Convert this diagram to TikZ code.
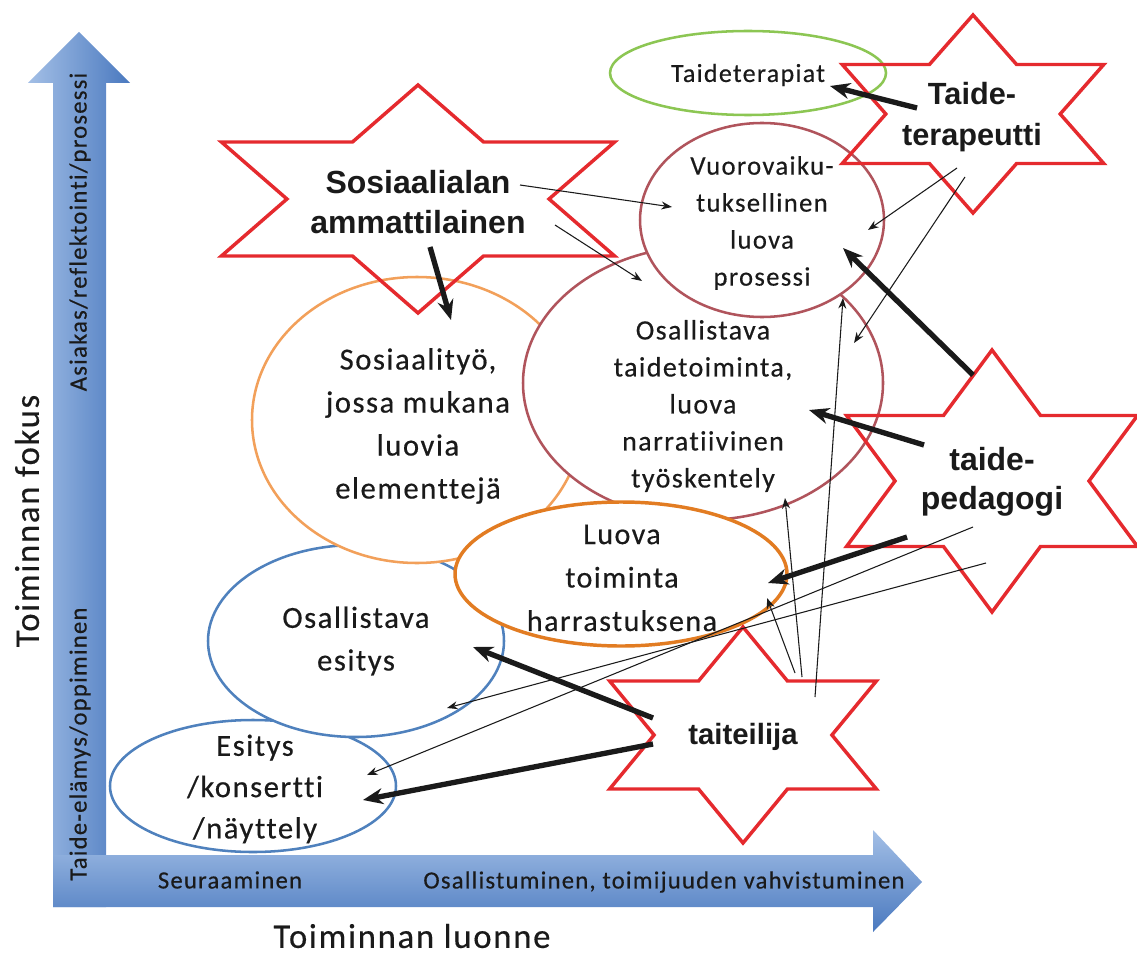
\documentclass[tikz,border=0pt]{standalone}
\usepackage{fontspec}
\setmainfont{Carlito}[LetterSpace=5,Ligatures=NoCommon,FakeBold=0.4]
\newfontfamily\starfont{Liberation Sans}
\usepackage{tikz}
\usetikzlibrary{arrows.meta,shapes.geometric}
\definecolor{StarRed}{HTML}{E52A2E}
\definecolor{OvalRose}{HTML}{B0545C}
\definecolor{OvalOrange}{HTML}{F2A05A}
\definecolor{OvalAmber}{HTML}{E27C22}
\definecolor{OvalBlue}{HTML}{4F81BD}
\definecolor{OvalGreen}{HTML}{8CC653}
\definecolor{AxisLight}{HTML}{A3BFE6}
\definecolor{AxisDark}{HTML}{4A79BF}
\definecolor{InkGray}{HTML}{1A1A1A}
% six-pointed star: centre x, centre y, x radius, y radius
\newcommand{\hexstar}[4]{%
  \draw[starline,shift={(#1,#2)}] (0,#4)
    \foreach \a in {0,...,5}{
      -- ({0.57735*#3*cos(120+60*\a)},{0.57735*#4*sin(120+60*\a)})
      -- ({#3*cos(150+60*\a)},{#4*sin(150+60*\a)}) } -- cycle;}

\begin{document}
\begin{tikzpicture}[x=0.75pt,y=-0.75pt,
    oval/.style={ellipse,fill=white,inner sep=0pt,line width=1.9pt},
    ovaltext/.style={align=center,text=InkGray,inner sep=0pt},
    starline/.style={StarRed,line width=2.6pt,line join=miter},
    startext/.style={align=center,text=InkGray,inner sep=0pt},
    axistext/.style={text=InkGray,inner sep=0pt,font=\fontsize{18.5}{22}\selectfont},
    thinarr/.style={-{Stealth[length=8pt,width=6pt]},line width=0.8pt,InkGray},
    thickarr/.style={-{Stealth[length=15pt,width=12pt]},line width=4pt,InkGray}]
  \useasboundingbox (0,0) rectangle (1137,959);

  % axes
  \shade[left color=AxisLight,right color=AxisDark]
    (53,907) -- (53,83) -- (28,83) -- (79,32) -- (130,83) -- (106,83) -- (106,907) -- cycle;
  \shade[top color=AxisLight,bottom color=AxisDark]
    (53,855) -- (873,855) -- (873,830) -- (922,882) -- (873,932) -- (873,907) -- (53,907) -- cycle;
  \node[axistext,rotate=90] (ax-up)  at (80,232) {Asiakas/reflektointi/prosessi};
  \node[axistext,rotate=90] (ax-low) at (80,744) {Taide-elämys/oppiminen};
  \node[axistext] (ax-left)  at (230,880) {Seuraaminen};
  \node[axistext] (ax-right) at (664,882) {Osallistuminen, toimijuuden vahvistuminen};
  \node[text=InkGray,rotate=90,font=\fontsize{26}{30}\selectfont] (fokus) at (27,521) {Toiminnan fokus};
  \node[text=InkGray,font=\fontsize{26}{30}\selectfont] (luonne) at (412,936) {Toiminnan luonne};

  % ellipses, back to front
  \node[oval,draw=OvalBlue,minimum width=214.5pt,minimum height=99pt] (esitys) at (253,786) {};
  \node[oval,draw=OvalBlue,minimum width=222pt,minimum height=144pt] (osesi) at (356,641) {};
  \node[oval,draw=OvalOrange,minimum width=247.5pt,minimum height=214.5pt] (sostyo) at (417,420) {};
  \node[oval,draw=OvalRose,minimum width=270pt,minimum height=205.5pt] (osta) at (703,383) {};
  \node[oval,draw=OvalRose,minimum width=183pt,minimum height=145.5pt] (vuoro) at (762,220) {};
  \node[oval,draw=OvalAmber,line width=2.6pt,minimum width=249pt,minimum height=108pt] (luova) at (621,574) {};
  \node[oval,draw=OvalGreen,minimum width=207pt,minimum height=63pt] (terapiat) at (748,73) {};

  \node[ovaltext,font=\fontsize{19.5}{24}\selectfont] (terapiat-t) at (748,75) {Taideterapiat};
  \node[ovaltext,font=\fontsize{20}{27.75}\selectfont] (vuoro-t) at (762,223)
    {Vuorovaiku-\\tuksellinen\\luova\\prosessi};
  \node[ovaltext,font=\fontsize{21}{27.75}\selectfont] (osta-t) at (703,406)
    {Osallistava\\taidetoiminta,\\luova\\narratiivinen\\työskentely};
  \node[ovaltext,font=\fontsize{23}{32.25}\selectfont] (sostyo-t) at (418,426)
    {Sosiaalityö,\\jossa mukana\\luovia\\elementtejä};
  \node[ovaltext,font=\fontsize{22.5}{32.6}\selectfont] (luova-t) at (622,578)
    {Luova\\toiminta\\harrastuksena};
  \node[ovaltext,font=\fontsize{23}{32}\selectfont] (osesi-t) at (356,641)
    {Osallistava\\esitys};
  \node[ovaltext,font=\fontsize{23}{31}\selectfont] (esitys-t) at (255,789)
    {Esitys\\/konsertti\\/näyttely};

  % stars
  \hexstar{418}{199}{227}{114}
  \hexstar{973}{114}{151}{99}
  \hexstar{992}{481}{168}{131}
  \hexstar{743}{735}{154}{108}
  \node[startext,font=\starfont\bfseries\fontsize{24}{30}\selectfont] (sosiaali) at (418,202)
    {Sosiaalialan\\ammattilainen};
  \node[startext,font=\starfont\bfseries\fontsize{23}{31}\selectfont] (terapeutti) at (972,117)
    {Taide-\\terapeutti};
  \node[startext,font=\starfont\bfseries\fontsize{24}{29}\selectfont] (pedagogi) at (992,482)
    {taide-\\pedagogi};
  \node[startext,font=\starfont\bfseries\fontsize{22}{26}\selectfont] (taiteilija) at (743,737)
    {taiteilija};

  % arrow ends
  \coordinate (sosA) at (430,247);  \coordinate (sostyoA) at (451,320);
  \coordinate (terA) at (917,108);  \coordinate (terapiatA) at (830,86);
  \coordinate (pedA) at (973,375);  \coordinate (vuoroA) at (843,248);
  \coordinate (pedB) at (924,445);  \coordinate (ostaA) at (809,410);
  \coordinate (pedC) at (907,537);  \coordinate (luovaA) at (768,583);
  \coordinate (taiA) at (653,718);  \coordinate (osesiA) at (473,647);
  \coordinate (taiB) at (653,744);  \coordinate (esitysA) at (363,800);
  \coordinate (sosB) at (520,185);  \coordinate (vuoroB) at (672,207);
  \coordinate (sosC) at (555,225);  \coordinate (ostaB) at (642,281);
  \coordinate (terB) at (957,168);  \coordinate (vuoroC) at (868,230);
  \coordinate (terC) at (965,177);  \coordinate (ostaC) at (854,343);
  \coordinate (taiC) at (815,697);  \coordinate (vuoroD) at (843,298);
  \coordinate (taiD) at (802,677);  \coordinate (ostaD) at (785,498);
  \coordinate (taiE) at (795,673);  \coordinate (luovaB) at (767,598);
  \coordinate (pedD) at (973,527);  \coordinate (esitysB) at (367,775);
  \coordinate (pedE) at (986,563);  \coordinate (osesiB) at (447,708);

  % thin arrows
  \draw[thinarr] (sosB) -- (vuoroB);
  \draw[thinarr] (sosC) -- (ostaB);
  \draw[thinarr] (terB) -- (vuoroC);
  \draw[thinarr] (terC) -- (ostaC);
  \draw[thinarr] (taiC) -- (vuoroD);
  \draw[thinarr] (taiD) -- (ostaD);
  \draw[thinarr] (taiE) -- (luovaB);
  \draw[thinarr] (pedD) -- (esitysB);
  \draw[thinarr] (pedE) -- (osesiB);

  % thick arrows
  \draw[thickarr] (sosA) -- (sostyoA);
  \draw[thickarr] (terA) -- (terapiatA);
  \draw[thickarr] (pedA) -- (vuoroA);
  \draw[thickarr] (pedB) -- (ostaA);
  \draw[thickarr] (pedC) -- (luovaA);
  \draw[thickarr] (taiA) -- (osesiA);
  \draw[thickarr] (taiB) -- (esitysA);
\end{tikzpicture}
\end{document}
